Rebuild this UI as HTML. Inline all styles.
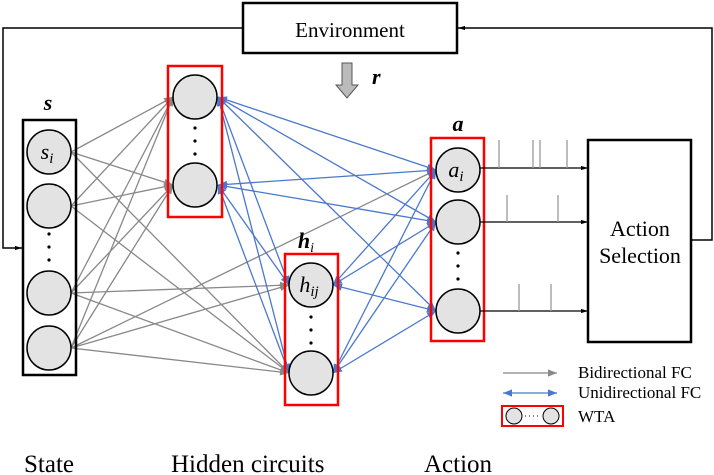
<!DOCTYPE html>
<html><head><style>body{margin:0;background:#fff}svg{display:block}</style></head><body>
<svg width="714" height="475" viewBox="0 0 714 475" xmlns="http://www.w3.org/2000/svg" font-family="Liberation Serif, serif">
<defs>
<marker id="g" viewBox="0 0 10 10" refX="10" refY="5" markerWidth="9" markerHeight="9" markerUnits="userSpaceOnUse" orient="auto-start-reverse"><path d="M0,1 L10,5 L0,9 z" fill="#888"/></marker>
<marker id="b" viewBox="0 0 10 10" refX="10" refY="5" markerWidth="9" markerHeight="9" markerUnits="userSpaceOnUse" orient="auto-start-reverse"><path d="M0,1 L10,5 L0,9 z" fill="#4a78cc"/></marker>
<marker id="k" viewBox="0 0 10 10" refX="10" refY="5" markerWidth="9" markerHeight="7" markerUnits="userSpaceOnUse" orient="auto-start-reverse"><path d="M0,2 L10,5 L0,8 z" fill="#000"/></marker>
</defs>
<polyline points="243,28 3,28 3,248 22,248" fill="none" stroke="#000" stroke-width="1.5" marker-end="url(#k)"/>
<polyline points="691,240 712,240 712,28 458,28" fill="none" stroke="#000" stroke-width="1.5" marker-end="url(#k)"/>
<rect x="243" y="3" width="214" height="50" fill="#fff" stroke="#000" stroke-width="2.5"/>
<text x="350" y="37" font-size="21" text-anchor="middle">Environment</text>
<path d="M342,63 h10 v22 h6 l-11,13 l-11,-13 h6 z" fill="#bbb" stroke="#555" stroke-width="1"/>
<text x="372" y="84" font-size="22" font-weight="bold" font-style="italic">r</text>
<g stroke="#888" stroke-width="1.3" fill="none">
<line x1="71" y1="152" x2="173" y2="97" marker-end="url(#g)"/>
<line x1="71" y1="152" x2="173" y2="185" marker-end="url(#g)"/>
<line x1="71" y1="206" x2="173" y2="97" marker-end="url(#g)"/>
<line x1="71" y1="206" x2="173" y2="185" marker-end="url(#g)"/>
<line x1="71" y1="293" x2="173" y2="97" marker-end="url(#g)"/>
<line x1="71" y1="293" x2="173" y2="185" marker-end="url(#g)"/>
<line x1="71" y1="348" x2="173" y2="97" marker-end="url(#g)"/>
<line x1="71" y1="348" x2="173" y2="185" marker-end="url(#g)"/>
<line x1="71" y1="152" x2="289" y2="373" marker-end="url(#g)"/>
<line x1="71" y1="206" x2="289" y2="373" marker-end="url(#g)"/>
<line x1="71" y1="293" x2="289" y2="285" marker-end="url(#g)"/>
<line x1="71" y1="293" x2="289" y2="373" marker-end="url(#g)"/>
<line x1="71" y1="348" x2="289" y2="285" marker-end="url(#g)"/>
<line x1="71" y1="348" x2="289" y2="373" marker-end="url(#g)"/>
<line x1="71" y1="348" x2="436" y2="170" marker-end="url(#g)"/>
</g>
<g stroke="#4a78cc" stroke-width="1.3" fill="none" marker-start="url(#b)" marker-end="url(#b)">
<line x1="218" y1="97" x2="289" y2="285"/>
<line x1="218" y1="97" x2="289" y2="373"/>
<line x1="218" y1="185" x2="289" y2="285"/>
<line x1="218" y1="185" x2="289" y2="373"/>
<line x1="218" y1="97" x2="436" y2="170"/>
<line x1="218" y1="97" x2="436" y2="222"/>
<line x1="218" y1="97" x2="436" y2="311"/>
<line x1="218" y1="185" x2="436" y2="170"/>
<line x1="218" y1="185" x2="436" y2="222"/>
<line x1="333" y1="285" x2="436" y2="170"/>
<line x1="333" y1="285" x2="436" y2="222"/>
<line x1="333" y1="285" x2="436" y2="311"/>
<line x1="333" y1="373" x2="436" y2="170"/>
<line x1="333" y1="373" x2="436" y2="222"/>
<line x1="333" y1="373" x2="436" y2="311"/>
</g>
<rect x="23" y="120" width="53" height="255" fill="none" stroke="#000" stroke-width="2.5"/>
<text x="48" y="110" font-size="22" font-weight="bold" font-style="italic" text-anchor="middle">s</text>
<rect x="168" y="66" width="54" height="151" fill="none" stroke="#f00" stroke-width="2.5"/>
<rect x="285" y="254" width="53" height="151" fill="none" stroke="#f00" stroke-width="2.5"/>
<text x="306" y="248" font-size="22" font-weight="bold" font-style="italic" text-anchor="middle">h<tspan font-size="14" font-weight="normal" dy="4">i</tspan></text>
<rect x="431" y="138" width="53" height="203" fill="none" stroke="#f00" stroke-width="2.5"/>
<text x="458" y="131" font-size="22" font-weight="bold" font-style="italic" text-anchor="middle">a</text>
<g fill="#e3e3e3" stroke="#000" stroke-width="1.5">
<circle cx="49" cy="152" r="22"/><circle cx="49" cy="206" r="22"/><circle cx="49" cy="293" r="22"/><circle cx="49" cy="348" r="22"/>
<circle cx="195" cy="97" r="22"/><circle cx="195" cy="185" r="22"/>
<circle cx="311" cy="285" r="22"/><circle cx="311" cy="373" r="22"/>
<circle cx="458" cy="170" r="22"/><circle cx="458" cy="222" r="22"/><circle cx="458" cy="311" r="22"/>
</g>
<g fill="#000"><circle cx="49" cy="234" r="1.6"/><circle cx="49" cy="247" r="1.6"/><circle cx="49" cy="260" r="1.6"/>
<circle cx="195" cy="128" r="1.6"/><circle cx="195" cy="141" r="1.6"/><circle cx="195" cy="154" r="1.6"/>
<circle cx="311" cy="317" r="1.6"/><circle cx="311" cy="330" r="1.6"/><circle cx="311" cy="343" r="1.6"/>
<circle cx="458" cy="253" r="1.6"/><circle cx="458" cy="266" r="1.6"/><circle cx="458" cy="279" r="1.6"/></g>
<text x="47" y="159" font-size="22" font-style="italic" text-anchor="middle">s<tspan font-size="15" dy="4">i</tspan></text>
<text x="309" y="292" font-size="22" font-style="italic" text-anchor="middle">h<tspan font-size="15" dy="4">ij</tspan></text>
<text x="456" y="177" font-size="22" font-style="italic" text-anchor="middle">a<tspan font-size="15" dy="4">i</tspan></text>
<g stroke="#000" stroke-width="1.3" marker-end="url(#k)"><line x1="480" y1="168" x2="588" y2="168"/><line x1="480" y1="222" x2="588" y2="222"/><line x1="480" y1="311" x2="588" y2="311"/></g>
<g stroke="#999" stroke-width="1.3"><line x1="499" y1="140" x2="499" y2="168"/><line x1="533" y1="140" x2="533" y2="168"/><line x1="540" y1="140" x2="540" y2="168"/><line x1="567" y1="140" x2="567" y2="168"/>
<line x1="507" y1="195" x2="507" y2="222"/><line x1="558" y1="195" x2="558" y2="222"/>
<line x1="519" y1="284" x2="519" y2="311"/><line x1="551" y1="284" x2="551" y2="311"/></g>
<rect x="588" y="140" width="103" height="202" fill="#fff" stroke="#000" stroke-width="2.5"/>
<text x="640" y="236" font-size="22" text-anchor="middle">Action</text>
<text x="640" y="263" font-size="22" text-anchor="middle">Selection</text>
<line x1="503" y1="373" x2="557" y2="373" stroke="#888" stroke-width="1.3" marker-end="url(#g)"/>
<line x1="503" y1="393" x2="557" y2="393" stroke="#4a78cc" stroke-width="1.3" marker-start="url(#b)" marker-end="url(#b)"/>
<rect x="502" y="406" width="61" height="20" fill="none" stroke="#f00" stroke-width="2"/>
<circle cx="514" cy="416" r="8" fill="#e3e3e3" stroke="#000"/><circle cx="551" cy="416" r="8" fill="#e3e3e3" stroke="#000"/>
<line x1="525" y1="416" x2="540" y2="416" stroke="#000" stroke-dasharray="1,3"/>
<g font-size="17"><text x="578" y="378">Bidirectional FC</text><text x="578" y="398">Unidirectional FC</text><text x="578" y="422">WTA</text></g>
<g font-size="25"><text x="24" y="472">State</text><text x="171" y="472">Hidden circuits</text><text x="424" y="472">Action</text></g>
</svg>
</body></html>
